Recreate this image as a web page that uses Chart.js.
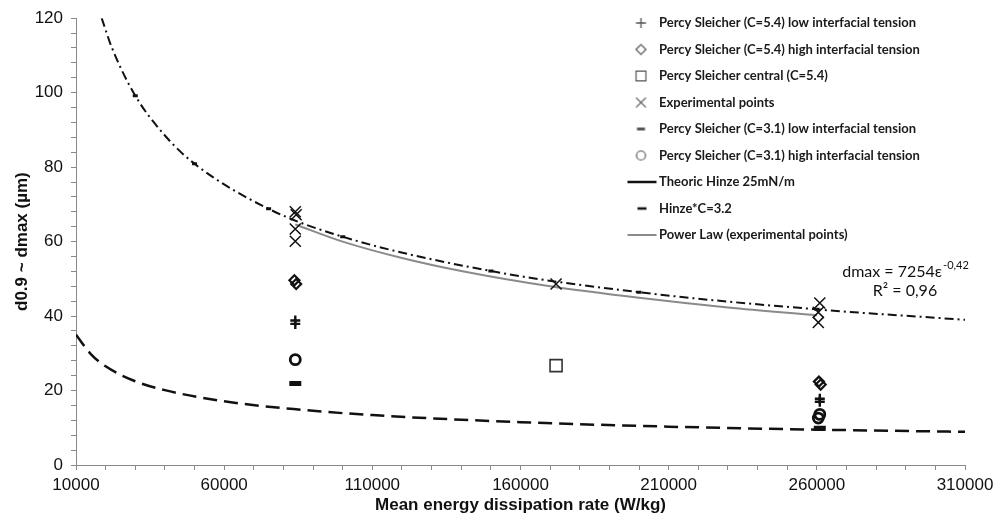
<!DOCTYPE html>
<html><head><meta charset="utf-8">
<script src="https://cdn.jsdelivr.net/npm/chart.js@4/dist/chart.umd.min.js"></script>
<style>html,body{margin:0;padding:0;background:#fff;}#wrap{width:1000px;height:523px;}</style>
</head><body><div id="wrap"><canvas id="c" width="1000" height="523"></canvas></div>
<script>
// ---- tick labels ----
const xTickLabels = [10000, 60000, 110000, 160000, 210000, 260000, 310000];
const yTickLabels = [0, 20, 40, 60, 80, 100, 120];

// ---- series ----
const psLow54X = [84000, 84000, 261000, 261000];
const psLow54Y = [38.8, 37.9, 17.8, 17.0];
const psHigh54X = [83700, 84300, 260700, 261300];
const psHigh54Y = [49.6, 48.6, 22.4, 21.6];
const psCentralX = [172000];
const psCentralY = [26.7];
const expX = [84000, 84300, 84000, 84000, 172000, 261000, 260500, 260500];
const expY = [68.0, 67.2, 63.4, 60.1, 48.6, 43.5, 41.0, 38.3];
const psLow31X = [84000, 261000];
const psLow31Y = [21.9, 9.9];
const psHigh31X = [84000, 261000, 260500];
const psHigh31Y = [28.3, 13.6, 12.6];
const hinzeX = [10000, 15000, 20000, 30000, 40000, 60000, 85000, 110000, 160000, 210000, 260000, 310000];
const hinzeY = [35.0, 29.8, 26.5, 22.5, 20.1, 17.1, 14.9, 13.4, 11.5, 10.3, 9.5, 8.9];
const hinzeCX = [18670, 22000, 30000, 40000, 50000, 75000, 100000, 150000, 200000, 260000, 310000];
const hinzeCY = [120.0, 112.3, 99.2, 88.5, 80.9, 68.8, 61.3, 52.1, 46.4, 41.8, 39.0];
const hinzeCMarkedX = [30000, 50000, 75000, 100000, 150000, 200000, 260000];
const powerX = [84000, 100000, 120000, 140000, 170000, 200000, 230000, 260000];
const powerY = [64.6, 60.0, 55.6, 52.1, 48.0, 44.9, 42.3, 40.2];

const seriesLabels = [
  'Percy Sleicher (C=5.4) low interfacial tension',
  'Percy Sleicher (C=5.4) high interfacial tension',
  'Percy Sleicher central (C=5.4)',
  'Experimental points',
  'Percy Sleicher (C=3.1) low interfacial tension',
  'Percy Sleicher (C=3.1) high interfacial tension',
  'Theoric Hinze 25mN/m',
  'Hinze*C=3.2',
  'Power Law (experimental points)'
];
const xTitle = 'Mean energy dissipation rate (W/kg)';
const yTitle = 'd0.9 ~ dmax (\u00b5m)';
const eqMain = 'dmax = 7254\u03b5';
const eqSup = '-0,42';
const eqR2 = 'R\u00b2 = 0,96';

const pts = (xs, ys) => xs.map((x, i) => ({x: x, y: ys[i]}));

const INK = '#111111';
const TICK_FONT = {family: "'Liberation Sans', Arial, sans-serif", size: 17};
const TITLE_FONT = {family: "'Liberation Sans', Arial, sans-serif", size: 17, weight: 'bold'};
const LEGEND_FAMILY = "Lato, 'Open Sans', sans-serif";

function pointSet(label, data, style, radius, bw, color, lr, lbw) {
  return {
    label: label, data: data, showLine: false,
    pointStyle: style, pointRadius: radius, pointHoverRadius: radius,
    pointBorderWidth: bw, pointBorderColor: color, pointBackgroundColor: 'rgba(0,0,0,0)',
    borderColor: color, backgroundColor: 'rgba(0,0,0,0)',
    mk: {type: 'point', style: style, radius: lr, bw: lbw, color: '#555'}
  };
}

const datasets = [
  pointSet(seriesLabels[0], pts(psLow54X, psLow54Y), 'cross', 5, 2.4, INK, 5, 1.3),
  pointSet(seriesLabels[1], pts(psHigh54X, psHigh54Y), 'rectRot', 5, 2.2, INK, 5, 1.2),
  pointSet(seriesLabels[2], pts(psCentralX, psCentralY), 'rect', 8.5, 1.6, '#333', 7, 1.2),
  pointSet(seriesLabels[3], pts(expX, expY), 'crossRot', 7.8, 1.5, INK, 7, 1.2),
  pointSet(seriesLabels[4], pts(psLow31X, psLow31Y), 'line', 6, 5, INK, 4, 3),
  pointSet(seriesLabels[5], pts(psHigh31X, psHigh31Y), 'circle', 5, 2.8, INK, 4.5, 1.2),
  {
    label: seriesLabels[6], data: pts(hinzeX, hinzeY), showLine: true,
    borderColor: INK, borderWidth: 2.5, borderDash: [14, 7], pointRadius: 0,
    cubicInterpolationMode: 'monotone', backgroundColor: 'rgba(0,0,0,0)',
    mk: {type: 'line', color: INK, width: 2.5, len: 29}
  },
  {
    label: seriesLabels[7], data: pts(hinzeCX, hinzeCY), showLine: true,
    borderColor: INK, borderWidth: 2, borderDash: [9, 4, 2, 4], cubicInterpolationMode: 'monotone',
    pointStyle: 'line', pointBorderWidth: 3, pointBorderColor: INK, backgroundColor: 'rgba(0,0,0,0)',
    pointRadius: (ctx) => (ctx.raw && hinzeCMarkedX.includes(ctx.raw.x)) ? 2.5 : 0,
    mk: {type: 'line', color: INK, width: 2.5, len: 9}
  },
  {
    label: seriesLabels[8], data: pts(powerX, powerY), showLine: true,
    borderColor: '#8a8a8a', borderWidth: 2, pointRadius: 0, cubicInterpolationMode: 'monotone',
    backgroundColor: 'rgba(0,0,0,0)',
    mk: {type: 'line', color: '#8a8a8a', width: 2, len: 29}
  }
];

function drawShape(g, style, x, y, r) {
  const c45 = Math.SQRT1_2;
  g.beginPath();
  if (style === 'cross') { g.moveTo(x - r, y); g.lineTo(x + r, y); g.moveTo(x, y - r); g.lineTo(x, y + r); }
  else if (style === 'crossRot') { const o = r * c45; g.moveTo(x - o, y - o); g.lineTo(x + o, y + o); g.moveTo(x - o, y + o); g.lineTo(x + o, y - o); }
  else if (style === 'rectRot') { g.moveTo(x - r, y); g.lineTo(x, y - r); g.lineTo(x + r, y); g.lineTo(x, y + r); g.closePath(); }
  else if (style === 'rect') { const s = r * c45; g.rect(x - s, y - s, 2 * s, 2 * s); }
  else if (style === 'line') { g.moveTo(x - r, y); g.lineTo(x + r, y); }
  else if (style === 'circle') { g.arc(x, y, r, 0, Math.PI * 2); }
  g.stroke();
}

// legend marker canvas: centred 5.5px left of the legend's default box centre
function markerCanvas(mk) {
  const c = document.createElement('canvas');
  c.width = 44; c.height = 18;
  const g = c.getContext('2d');
  const cx = 22 - 5.5, cy = 9;
  g.strokeStyle = mk.color;
  if (mk.type === 'point') {
    g.lineWidth = mk.bw;
    drawShape(g, mk.style, cx, cy, mk.radius);
  } else {
    g.lineWidth = mk.width;
    g.beginPath();
    g.moveTo(cx - mk.len / 2 + 1, cy); g.lineTo(cx + mk.len / 2 + 1, cy); g.stroke();
  }
  return c;
}

const legendMover = {
  id: 'legendMover',
  afterLayout(chart) {
    const lg = chart.legend;
    if (!lg) return;
    const w = lg.right - lg.left;
    lg.left = 627; lg.right = 627 + w;
    lg.top = 3;
  }
};

const equationPlugin = {
  id: 'equation',
  afterDraw(chart) {
    const g = chart.ctx;
    g.save();
    g.fillStyle = INK;
    g.textBaseline = 'alphabetic';
    g.textAlign = 'left';
    const f1 = "16px Lato, 'Open Sans', sans-serif";
    const f2 = "11px Lato, 'Open Sans', sans-serif";
    g.font = f1; const w1 = g.measureText(eqMain).width;
    g.font = f2; const w2 = g.measureText(eqSup).width;
    const cx = 905, x0 = cx - (w1 + w2) / 2;
    g.font = f1; g.fillText(eqMain, x0, 277);
    g.font = f2; g.fillText(eqSup, x0 + w1 + 1, 269);
    g.font = f1; g.textAlign = 'center'; g.fillText(eqR2, cx, 296);
    g.restore();
  }
};

new Chart(document.getElementById('c'), {
  type: 'scatter',
  data: {datasets: datasets},
  options: {
    responsive: false, animation: false, devicePixelRatio: 1,
    layout: {padding: {left: 0, top: 15, right: 35, bottom: 0}},
    plugins: {
      tooltip: {enabled: false},
      legend: {
        display: true, position: 'chartArea', align: 'start',
        labels: {
          usePointStyle: true, boxWidth: 12, boxHeight: 8, padding: 13.5,
          color: '#1a1a1a',
          font: {family: LEGEND_FAMILY, size: 13, weight: 'bold'},
          generateLabels(chart) {
            return chart.data.datasets.map((ds, i) => ({
              text: ds.label, datasetIndex: i, hidden: false,
              fillStyle: 'rgba(0,0,0,0)', strokeStyle: INK, lineWidth: 1,
              pointStyle: markerCanvas(ds.mk), rotation: 0, fontColor: '#1a1a1a'
            }));
          }
        }
      }
    },
    scales: {
      x: {
        type: 'linear', position: 'bottom', min: 10000, max: 310000,
        afterFit(s) { s.height = 58; },
        ticks: {
          stepSize: 10000, autoSkip: false, maxRotation: 0, minRotation: 0,
          color: INK, font: TICK_FONT, padding: 5,
          callback: (v) => xTickLabels.includes(v) ? String(v) : ''
        },
        grid: {display: true, drawOnChartArea: false, drawTicks: true, tickLength: 5, color: '#8a8a8a', lineWidth: 1},
        border: {display: true, color: '#8a8a8a', width: 1},
        title: {display: true, text: xTitle, color: INK, font: TITLE_FONT, padding: {top: 0, bottom: 7}}
      },
      y: {
        type: 'linear', min: 0, max: 120,
        afterFit(s) { s.width = 76; },
        ticks: {
          stepSize: 4, autoSkip: false, color: INK, font: TICK_FONT, padding: 8,
          callback: (v) => yTickLabels.includes(v) ? String(v) : ''
        },
        grid: {display: true, drawOnChartArea: false, drawTicks: true, tickLength: 5, color: '#8a8a8a', lineWidth: 1},
        border: {display: true, color: '#8a8a8a', width: 1},
        title: {display: true, text: yTitle, color: INK, font: TITLE_FONT, padding: {top: 12, bottom: 0}}
      }
    }
  },
  plugins: [legendMover, equationPlugin]
});
</script>
</body></html>
